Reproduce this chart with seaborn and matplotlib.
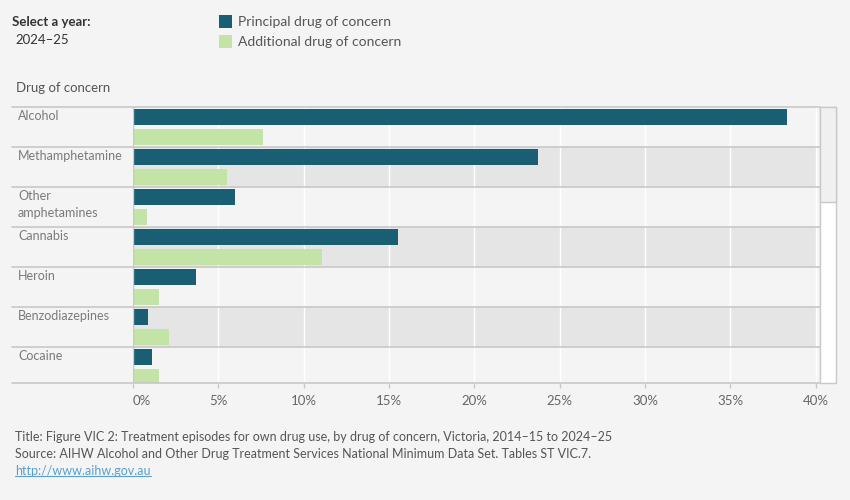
import textwrap

import numpy as np
import pandas as pd
import seaborn as sns
import matplotlib.pyplot as plt
from matplotlib.patches import Rectangle
from matplotlib.lines import Line2D

# data (2024-25, Victoria, % of treatment episodes)
drugs = ['Alcohol', 'Methamphetamine', 'Other amphetamines', 'Cannabis',
         'Heroin', 'Benzodiazepines', 'Cocaine']
principal = [38.3, 23.7, 6.0, 15.5, 3.7, 0.9, 1.1]
additional = [7.6, 5.5, 0.8, 11.1, 1.5, 2.1, 1.5]
series = ['Principal drug of concern', 'Additional drug of concern']
colours = ['#1a5e73', '#c4e3a6']
x_ticks = [0, 5, 10, 15, 20, 25, 30, 35, 40]
x_labels = [f'{t}%' for t in x_ticks]

W, H = 850, 500
BG = '#f4f4f4'
BAND = '#e5e5e5'
LINE = '#c8c8c8'
TXT = '#555555'


def fx(x):
  return x / W


def fy(y):
  return 1 - y / H


df = pd.DataFrame({
  'drug': drugs * 2,
  'share': principal + additional,
  'type': [series[0]] * len(drugs) + [series[1]] * len(drugs),
})

sns.set_theme(style='white')
plt.rcParams['font.family'] = ['Lato', 'DejaVu Sans']

fig = plt.figure(figsize=(W / 100, H / 100), dpi=100, facecolor=BG)
ax = fig.add_axes([fx(133), fy(383), (820 - 133) / W, (383 - 107) / H])
ax.set_facecolor(BG)

xmax = 40.25
# alternating row bands + white gridlines
for i in range(1, len(drugs), 2):
  ax.axhspan(i - 0.5, i + 0.5, xmin=0, xmax=40.1 / xmax, color=BAND, lw=0, zorder=0)
for t in x_ticks[1:]:
  ax.axvline(t, color='white', lw=1, zorder=0.5)

sns.barplot(data=df, y='drug', x='share', hue='type', hue_order=series,
            palette=colours, orient='h', width=1.0, gap=0.22, saturation=1,
            linewidth=0, legend=False, ax=ax, zorder=2)

ax.set_xlim(0, xmax)
ax.set_ylim(6.4, -0.5)
for s in ax.spines.values():
  s.set_visible(False)
ax.set_xlabel('')
ax.set_ylabel('')
ax.set_xticks(x_ticks)
ax.set_xticklabels(x_labels)
ax.tick_params(axis='x', bottom=True, length=3.6, width=1, color=LINE,
               labelsize=9.5, labelcolor='#666666', pad=5)
ax.tick_params(axis='y', left=False, labelleft=False)
ax.get_xticklabels()[0].set_horizontalalignment('left')

# row separators across label column
lab_x = (12 - 133) / (820 - 133)
for b in np.arange(-0.5, len(drugs) - 1, 1.0):
  ax.axhline(b, xmin=lab_x, xmax=1, color=LINE, lw=1.2, clip_on=False, zorder=3)
ax.axhline(6.4, xmin=lab_x, xmax=1, color=LINE, lw=1.2, clip_on=False, zorder=3)
ax.axvline(0, color=LINE, lw=1, zorder=3)

# row labels at the top of each row
row_x = (18 - 133) / (820 - 133)
for i, d in enumerate(drugs):
  for j, line in enumerate(textwrap.wrap(d, 16)):
    ax.text(row_x, i - 0.5 + (9 + 17 * j) / 40, line,
            transform=ax.get_yaxis_transform(), ha='left', va='center',
            fontsize=9, color='#7a7a7a')

# legend top middle (drawn by hand to match square swatches)
for k, (name, col) in enumerate(zip(series, colours)):
  y0 = 15 + 20 * k
  fig.add_artist(Rectangle((fx(219), fy(y0 + 13)), 13 / W, 13 / H,
                           transform=fig.transFigure, facecolor=col, lw=0))
  fig.text(fx(238), fy(y0 + 7), name, fontsize=10, color=TXT, va='center')

fig.text(fx(12), fy(22), 'Select a year:', fontsize=9.5, color='#333333',
         fontweight='bold', va='center')
fig.text(fx(15), fy(40), '2024\u201325', fontsize=9.5, color='#333333', va='center')
fig.text(fx(16), fy(88), 'Drug of concern', fontsize=9.5, color=TXT, va='center')

fig.text(fx(15), fy(437), 'Title: Figure VIC 2: Treatment episodes for own drug use, '
         'by drug of concern, Victoria, 2014\u201315 to 2024\u201325',
         fontsize=9, color=TXT, va='center')
fig.text(fx(15), fy(454), 'Source: AIHW Alcohol and Other Drug Treatment Services '
         'National Minimum Data Set. Tables ST VIC.7.',
         fontsize=9, color=TXT, va='center')
link = fig.text(fx(15), fy(471), 'http://www.aihw.gov.au', fontsize=9,
                color='#5a9fd0', va='center')

# scrollbar on the right
fig.add_artist(Rectangle((fx(820), fy(383)), 16 / W, 276 / H, transform=fig.transFigure,
                         facecolor='white', edgecolor=LINE, lw=1))
fig.add_artist(Rectangle((fx(820), fy(202)), 16 / W, 95 / H, transform=fig.transFigure,
                         facecolor='#f0f0f0', edgecolor=LINE, lw=1))

fig.canvas.draw()
bb = link.get_window_extent()
fig.add_artist(Line2D([bb.x0, bb.x1], [bb.y0 + 1, bb.y0 + 1], transform=None,
                      color='#5a9fd0', lw=0.8))

fig.savefig('out.png', dpi=100, facecolor=fig.get_facecolor())
